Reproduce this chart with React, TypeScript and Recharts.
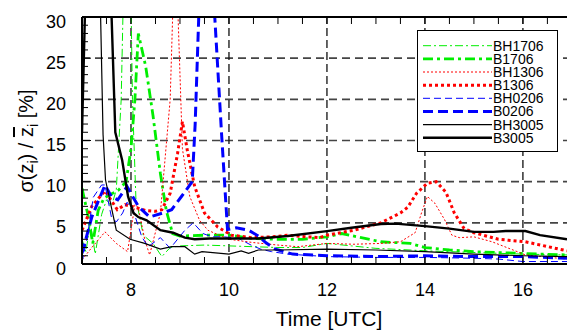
import React from 'react';
import { LineChart, Line, XAxis, YAxis, ReferenceLine, Legend } from 'recharts';

const FONT = '"Liberation Sans", Arial, Helvetica, sans-serif';

// ---- axes / ticks ----
const xLabelTicks = [8, 10, 12, 14, 16];
const xMinorTicks = [7, 7.5, 8, 8.5, 9, 9.5, 10, 10.5, 11, 11.5, 12, 12.5, 13, 13.5, 14, 14.5, 15, 15.5, 16, 16.5];
const yLabelTicks = [0, 5, 10, 15, 20, 25, 30];
const yMinorTicks = [0, 1, 2, 3, 4, 5, 6, 7, 8, 9, 10, 11, 12, 13, 14, 15, 16, 17, 18, 19, 20, 21, 22, 23, 24, 25, 26, 27, 28, 29, 30];
const xGridLines = [8, 10, 12, 14, 16];
const yGridLines = [5, 10, 15, 20, 25];

// ---- series (time [UTC], value [%]) ----
const tBH1706 = [7.0, 7.08, 7.17, 7.27, 7.4, 7.5, 7.6, 7.7, 7.8, 7.87, 7.98, 8.03, 8.1, 8.25, 8.45, 8.63, 8.8, 9.0, 9.5, 10.0, 10.5, 11.0, 11.5, 12.0, 12.5, 13.0, 13.7, 14.0, 15.0, 16.0, 16.9];
const vBH1706 = [3.0, 1.5, 5.0, 1.2, 6.0, 7.8, 7.0, 9.0, 20, 40, 40, 20, 8.0, 3.5, 2.5, 0.9, 2.0, 2.2, 2.3, 2.2, 2.1, 2.0, 2.0, 2.5, 2.2, 1.9, 1.7, 1.6, 1.4, 1.2, 1.1];

const tB1706 = [7.0, 7.12, 7.22, 7.33, 7.45, 7.6, 7.75, 7.9, 8.0, 8.08, 8.15, 8.3, 8.45, 8.6, 8.72, 8.85, 9.0, 9.5, 10.0, 10.5, 11.0, 11.5, 12.0, 12.3, 12.7, 13.1, 13.7, 14.0, 14.5, 15.0, 15.9, 16.9];
const vB1706 = [9.2, 6.0, 2.5, 6.5, 8.0, 8.5, 9.0, 10.0, 14.0, 20.0, 28.0, 24.0, 18.0, 11.0, 6.5, 3.7, 3.4, 3.5, 3.5, 3.1, 3.0, 3.0, 3.3, 3.7, 3.2, 2.7, 2.5, 2.0, 1.7, 1.5, 1.3, 1.1];

const tBH1306 = [7.0, 7.2, 7.47, 7.7, 7.93, 8.08, 8.15, 8.28, 8.38, 8.6, 8.8, 8.86, 8.9, 8.95, 9.05, 9.2, 9.4, 9.57, 9.8, 10.0, 10.5, 11.0, 11.4, 12.0, 12.55, 13.1, 13.5, 13.8, 13.93, 14.05, 14.2, 14.4, 14.55, 14.7, 15.0, 15.37, 15.8, 16.05, 16.9];
const vBH1306 = [0.5, 2.0, 3.9, 2.5, 1.5, 7.2, 6.8, 3.0, 1.1, 6.2, 20, 32, 36, 32, 14, 8.2, 5.3, 4.1, 3.5, 3.0, 2.6, 2.3, 2.1, 2.5, 2.4, 2.5, 2.7, 3.8, 6.2, 8.2, 7.4, 5.4, 3.5, 3.2, 3.3, 2.7, 1.7, 1.1, 0.6];

const tB1306 = [7.0, 7.2, 7.47, 7.72, 7.88, 8.08, 8.3, 8.5, 8.63, 8.8, 8.95, 9.05, 9.15, 9.3, 9.5, 9.77, 10.05, 10.45, 10.9, 11.2, 11.6, 11.85, 12.0, 12.55, 13.1, 13.5, 13.65, 13.83, 14.05, 14.23, 14.43, 14.6, 14.8, 15.0, 15.5, 16.05, 16.9];
const vB1306 = [4.1, 7.0, 8.9, 6.6, 7.2, 6.9, 6.5, 6.4, 6.6, 8.6, 13.4, 17.3, 13.8, 9.4, 6.2, 4.5, 3.5, 3.2, 3.3, 3.5, 3.3, 3.2, 3.5, 4.1, 5.0, 6.2, 6.9, 8.6, 9.8, 10.0, 8.7, 6.2, 4.3, 3.8, 3.0, 2.7, 1.6];

const tBH0206 = [7.0, 7.1, 7.23, 7.4, 7.47, 7.6, 7.7, 7.83, 7.92, 8.04, 8.22, 8.35, 8.6, 8.8, 9.1, 9.27, 9.47, 9.65, 9.9, 10.2, 10.45, 10.65, 10.87, 11.2, 12.0, 13.0, 14.0, 15.0, 15.5, 16.0, 16.9];
const vBH0206 = [0.2, 3.0, 8.1, 9.6, 9.6, 5.7, 5.1, 6.2, 7.5, 6.6, 3.3, 2.1, 3.2, 1.9, 4.1, 5.0, 3.7, 3.3, 3.3, 3.1, 2.3, 1.8, 1.5, 1.2, 0.9, 0.8, 0.8, 0.7, 0.6, 0.3, 0.3];

const tB0206 = [7.0, 7.2, 7.47, 7.6, 7.73, 7.92, 8.15, 8.38, 8.65, 8.83, 9.03, 9.25, 9.31, 9.4, 9.45, 9.65, 9.71, 9.85, 9.97, 10.15, 10.4, 10.6, 10.75, 10.95, 11.3, 12.0, 13.0, 14.0, 15.0, 16.0, 16.9];
const vB0206 = [1.3, 5.7, 9.6, 8.2, 7.8, 9.4, 7.0, 5.7, 6.2, 6.6, 8.2, 10.0, 17.0, 33.0, 40, 40, 30, 15.7, 4.2, 4.4, 4.1, 3.4, 2.6, 1.8, 1.2, 1.0, 0.9, 1.0, 0.9, 0.9, 0.7];

const tBH3005 = [7.0, 7.3, 7.38, 7.43, 7.48, 7.7, 7.98, 8.28, 8.6, 8.83, 9.1, 9.3, 9.45, 10.0, 10.25, 10.4, 10.6, 11.0, 12.0, 13.0, 14.0, 15.0, 16.0, 16.9];
const vBH3005 = [40, 40, 30, 15.7, 10.2, 4.1, 3.0, 2.5, 1.8, 2.1, 2.1, 1.2, 1.5, 1.2, 1.6, 1.3, 1.7, 1.7, 1.8, 1.7, 1.5, 1.2, 1.0, 0.9];

const tB3005 = [7.0, 7.1, 7.55, 7.68, 7.82, 7.94, 8.05, 8.15, 8.32, 8.6, 8.86, 9.1, 9.3, 9.6, 10.0, 10.6, 11.2, 12.0, 12.5, 13.1, 13.4, 14.0, 14.5, 15.0, 15.4, 15.65, 16.05, 16.35, 16.9];
const vB3005 = [16, 40, 40, 16, 12.6, 8.2, 6.2, 5.7, 5.3, 4.1, 3.8, 3.2, 3.0, 3.1, 3.1, 3.1, 3.4, 4.0, 4.4, 4.85, 4.9, 4.6, 4.3, 3.9, 3.9, 4.0, 4.0, 3.5, 3.0];

const GREEN = '#00ee00';
const RED = '#ff0000';
const BLUE = '#0000ff';

const SERIES = [
  { name: 'BH1706', t: tBH1706, v: vBH1706, color: GREEN, width: 1, dash: '8 3 2 3' },
  { name: 'B1706', t: tB1706, v: vB1706, color: GREEN, width: 2.8, dash: '10 4 3 4' },
  { name: 'BH1306', t: tBH1306, v: vBH1306, color: RED, width: 1, dash: '2 2' },
  { name: 'B1306', t: tB1306, v: vB1306, color: RED, width: 3, dash: '3 3' },
  { name: 'BH0206', t: tBH0206, v: vBH0206, color: BLUE, width: 1, dash: '7 4' },
  { name: 'B0206', t: tB0206, v: vB0206, color: BLUE, width: 3, dash: '10 5' },
  { name: 'BH3005', t: tBH3005, v: vBH3005, color: '#000', width: 1.2, dash: undefined },
  { name: 'B3005', t: tB3005, v: vB3005, color: '#000', width: 2.4, dash: undefined },
];

const seriesData = SERIES.map((s) => ({
  ...s,
  data: s.t.map((t, i) => ({ t, v: s.v[i] })),
}));

const BottomTick = (props: any) => {
  const { x, y, payload } = props;
  const v = payload.value;
  return (
    <g>
      <line x1={x} x2={x} y1={y} y2={y - 7} stroke="#000" strokeWidth={1} />
      {xLabelTicks.includes(v) && (
        <text x={x} y={y + 32} textAnchor="middle" fontFamily={FONT} fontSize={18} fill="#000">
          {v}
        </text>
      )}
    </g>
  );
};

const TopTick = (props: any) => {
  const { x, y } = props;
  return <line x1={x} x2={x} y1={y} y2={y + 7} stroke="#000" strokeWidth={1} />;
};

const LeftTick = (props: any) => {
  const { x, y, payload } = props;
  const v = payload.value;
  const major = yLabelTicks.includes(v);
  return (
    <g>
      <line x1={x} x2={x + (major ? 9 : 6)} y1={y} y2={y} stroke="#000" strokeWidth={1} />
      {major && (
        <text x={x - 16} y={y + 10.5} textAnchor="end" fontFamily={FONT} fontSize={18} fill="#000">
          {v}
        </text>
      )}
    </g>
  );
};

const XTitle = () => (
  <text x={329} y={326} textAnchor="middle" fontFamily={FONT} fontSize={21} fill="#000">
    Time [UTC]
  </text>
);

const YTitle = () => (
  <g transform="translate(33,141) rotate(-90)">
    <text x={0} y={0} textAnchor="middle" fontFamily={FONT} fontSize={20} fill="#000">
      σ(z<tspan fontSize={14} dy={5}>i</tspan><tspan dy={-5}>) / </tspan><tspan textDecoration="overline">z</tspan><tspan fontSize={14} dy={5}>i</tspan><tspan dy={-5}> [%]</tspan>
    </text>
  </g>
);

const LegendBox = () => (
  <svg width={141} height={122} style={{ display: 'block' }}>
    <rect x={0.5} y={0.5} width={140} height={121} fill="#fff" stroke="#000" strokeWidth={1} />
    {SERIES.map((s, i) => {
      const cy = 15.7 + i * 13.15;
      return (
        <g key={s.name}>
          <line x1={6} x2={75} y1={cy} y2={cy} stroke={s.color} strokeWidth={s.width} strokeDasharray={s.dash} />
          <text x={76} y={cy + 5} fontFamily={FONT} fontSize={14} fill="#000">
            {s.name}
          </text>
        </g>
      );
    })}
  </svg>
);

export default function App() {
  return (
    <div style={{ position: 'absolute', left: 0, top: 0, background: '#fff' }}>
      <LineChart width={568} height={333} margin={{ top: 16, right: 1, bottom: 68, left: 81 }}>
        <XAxis
          xAxisId="b"
          type="number"
          dataKey="t"
          domain={[7, 16.9]}
          allowDataOverflow
          ticks={xMinorTicks}
          interval={0}
          height={1}
          tickSize={0}
          tickMargin={0}
          tickLine={false}
          tick={BottomTick}
          axisLine={{ stroke: '#000', strokeWidth: 2 }}
          label={<XTitle />}
        />
        <XAxis
          xAxisId="top"
          orientation="top"
          type="number"
          dataKey="t"
          domain={[7, 16.9]}
          allowDataOverflow
          ticks={xMinorTicks}
          interval={0}
          height={1}
          tickSize={0}
          tickMargin={0}
          tickLine={false}
          tick={TopTick}
          axisLine={{ stroke: '#000', strokeWidth: 2 }}
        />
        <YAxis
          yAxisId="l"
          type="number"
          domain={[0, 30]}
          allowDataOverflow
          ticks={yMinorTicks}
          interval={0}
          width={1}
          tickSize={0}
          tickMargin={0}
          tickLine={false}
          tick={LeftTick}
          axisLine={{ stroke: '#000', strokeWidth: 2 }}
          label={<YTitle />}
        />
        {yGridLines.map((g) => (
          <ReferenceLine key={'y' + g} xAxisId="b" yAxisId="l" y={g} stroke="#444" strokeWidth={1.6} strokeDasharray="8 5" />
        ))}
        {xGridLines.map((g) => (
          <ReferenceLine key={'x' + g} xAxisId="b" yAxisId="l" x={g} stroke="#111" strokeWidth={1.3} strokeDasharray="8 4" />
        ))}
        {seriesData.map((s) => (
          <Line
            key={s.name}
            xAxisId="b"
            yAxisId="l"
            data={s.data}
            dataKey="v"
            name={s.name}
            type="linear"
            stroke={s.color}
            strokeWidth={s.width}
            strokeDasharray={s.dash}
            dot={false}
            activeDot={false}
            isAnimationActive={false}
          />
        ))}
        <Legend
          layout="vertical"
          align="center"
          verticalAlign="middle"
          content={LegendBox}
          wrapperStyle={{ position: 'absolute', left: 417, top: 30, width: 141, height: 122, margin: 0, padding: 0 }}
        />
      </LineChart>
    </div>
  );
}
